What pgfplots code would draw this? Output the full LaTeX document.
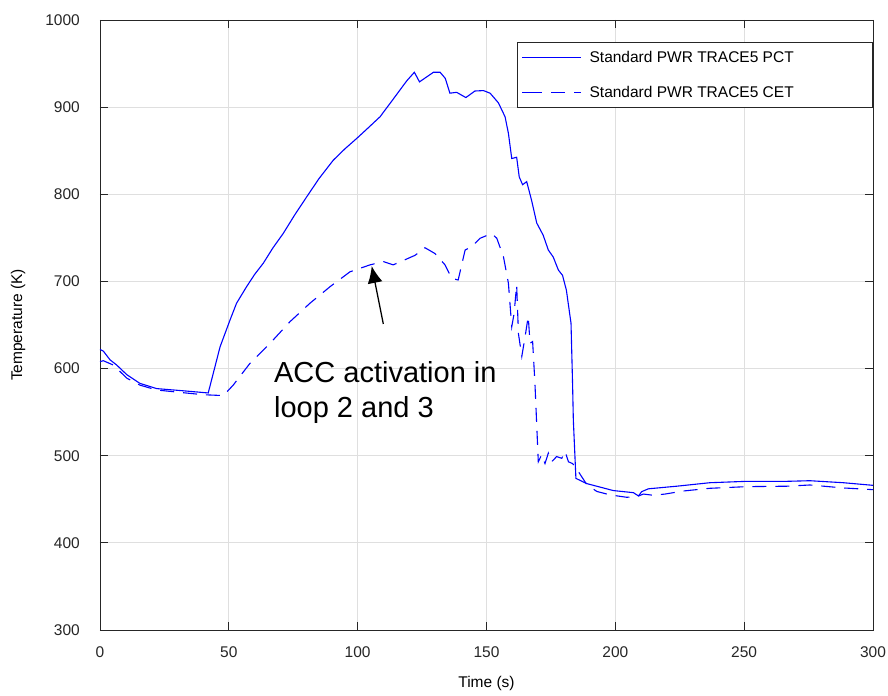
\documentclass[border=0pt]{standalone}
\usepackage{pgfplots}
\pgfplotsset{compat=1.18}
\usetikzlibrary{arrows.meta}
\usepackage{fontspec}
\setmainfont{Liberation Sans}
\definecolor{matblue}{RGB}{0,0,255}
\definecolor{axgray}{RGB}{38,38,38}
\begin{document}
\begin{tikzpicture}
\begin{axis}[
  name=ax,
  scale only axis,
  width=773pt, height=610pt,
  xmin=0, xmax=300, ymin=300, ymax=1000,
  xtick={0,50,...,300}, ytick={300,400,...,1000},
  tick align=inside, major tick length=8pt,
  axis line style={axgray, line width=0.8pt},
  every tick/.style={axgray, line width=0.8pt},
  grid=major, major grid style={gray!25, line width=0.8pt},
  /pgf/number format/assume math mode=true,
  /pgf/number format/1000 sep={},
  ticklabel style={font=\fontsize{15.5}{18}\selectfont, text=axgray},
  yticklabel style={inner sep=0pt, xshift=-20pt},
  xticklabel style={inner sep=0pt, yshift=-16pt},
  xlabel={Time (s)}, ylabel={Temperature (K)},
  every axis x label/.style={at={(axis description cs:0.5,-0.087)}, anchor=center, font=\fontsize{15.5}{18}\selectfont},
  every axis y label/.style={at={(axis description cs:-0.106,0.5)}, rotate=90, anchor=center, font=\fontsize{15.5}{18}\selectfont},
  legend style={at={(rel axis cs:1,1)}, anchor=north east, yshift=-22pt,
    draw=axgray, line width=0.8pt, fill=white,
    font=\fontsize{15.5}{18}\selectfont,
    inner xsep=4pt, inner ysep=7pt, row sep=18pt},
  legend cell align=left,
  legend image code/.code={\path (0pt,0pt) -- (6pt,0pt); \draw[#1, matblue] (6pt,0pt) -- (59pt,0pt);},
]
\addplot[matblue, line width=1.1pt] coordinates {
(0,622) (1.3,620) (3.9,610) (6.5,604) (10.4,593) (15.5,583) (22,577) (32.3,574.5)
(42,572) (44,595) (46.6,625) (50.5,656) (53,675) (56.9,694) (60,708) (63.4,721)
(67,738) (71.1,755) (75.5,776) (80.2,797) (85,818) (90.5,839) (95,852) (99.6,864)
(104,876) (108.7,889) (112.5,904) (116,918) (119,930) (122,940) (124,929) (129.4,940) (132,940)
(134,933) (135.8,916) (138.4,917) (142,911) (145.5,918.5) (148.8,919) (151.4,916)
(154.6,905) (157.2,889) (158.5,870) (159.8,841) (161.7,842.5) (162.7,820) (164,811)
(165.6,814.5) (167.5,793) (169.5,767) (172,753) (174,736) (175.9,728) (177.9,713)
(179.5,707) (181,690) (182.8,652) (183.4,583) (183.7,541) (184.7,474) (188.9,468)
(199.2,460) (207,457.6) (209,453.8) (210.2,458.7) (212.8,462) (223.8,465) (236.7,469)
(251,470.6) (266.5,470.6) (275.5,471.3) (288.5,469) (300,466)
};
\addlegendentry{\hspace*{6pt}\makebox[277pt][l]{Standard PWR TRACE5 PCT}}
\addplot[matblue, line width=1.1pt, dash pattern=on 14pt off 9pt] coordinates {
(0,608) (1.3,609) (5.2,604) (10.4,589) (15.5,581) (22,575.4) (32.3,572.3) (40,570)
(47.9,569) (51.7,581) (58.2,606) (66,629) (73.8,654) (81.5,675) (89.3,694) (97,711)
(104.8,719) (110,722.7) (113.8,719) (117.7,724) (122.3,730) (126.1,738.7) (130,732)
(133.9,719) (136.5,703.6) (139,701.6) (141.7,736) (144.3,740) (147.5,749.5) (152,755)
(154,749.5) (156.6,728) (158.5,698) (159.8,648) (160.7,663) (161.7,696) (162.4,640)
(163.7,614) (165,637) (166.2,660) (166.9,629) (167.9,631) (168.8,583) (170.1,493)
(171.4,501) (172.7,491) (174,503) (175.3,493) (177.2,499) (179.2,497) (180.5,505)
(181.8,493) (183.4,491) (185.6,482) (188.9,467) (192.8,459) (198,455) (204.4,452.3)
(208.3,453) (210.9,456) (214.7,454.6) (219.3,456) (226.4,459.5) (236.7,462.6)
(251,464.5) (266.5,465) (275.5,466.4) (288.5,463) (297.5,461.5) (300,461)
};
\addlegendentry{\hspace*{6pt}\makebox[277pt][l]{Standard PWR TRACE5 CET}}
\draw[-{Latex[length=17pt,width=15pt]}, line width=1.3pt, black] (axis cs:109.95,651.2) -- (axis cs:105.45,717.7);
\node[anchor=base west, inner sep=0pt, font=\fontsize{29}{33}\selectfont] at (axis cs:67.5,583.5) {ACC activation in};
\node[anchor=base west, inner sep=0pt, font=\fontsize{29}{33}\selectfont] at (axis cs:67.5,544.4) {loop 2 and 3};
\end{axis}
\pgfresetboundingbox
\path ([xshift=-100pt,yshift=-66pt]ax.south west) rectangle ([xshift=15pt,yshift=20pt]ax.north east);
\end{tikzpicture}
\end{document}
